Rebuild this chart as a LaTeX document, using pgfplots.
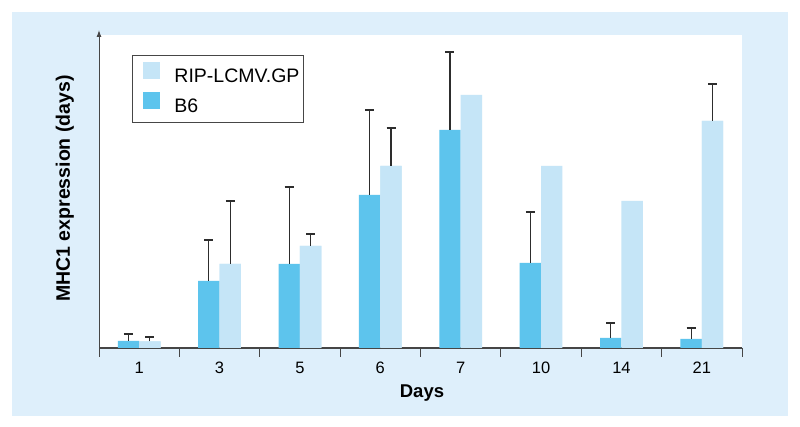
\documentclass[border=0pt]{standalone}
\usepackage{pgfplots}
\pgfplotsset{compat=1.18}
\usepackage{fontspec}
\setmainfont{Liberation Sans}
\usetikzlibrary{arrows.meta}
\definecolor{bsix}{RGB}{93,196,237}
\definecolor{rip}{RGB}{197,229,247}
\definecolor{panel}{RGB}{222,239,251}
\definecolor{axisgray}{RGB}{70,70,70}
\definecolor{errgray}{RGB}{45,45,45}
\begin{document}
\begin{tikzpicture}[x=1pt,y=1pt]
\path (0,0) rectangle (800,427);
\fill[panel] (12,11) rectangle (788,415);
\begin{axis}[
  at={(99pt,79pt)}, anchor=south west,
  scale only axis, width=643pt, height=313pt,
  xmin=0.5, xmax=8.5, ymin=0, ymax=313,
  clip=false,
  axis background/.style={fill=white},
  axis x line*=bottom, axis y line*=left,
  x axis line style={axisgray, line width=1.2pt},
  y axis line style={axisgray, line width=1pt, shorten >=-5pt, -{Latex[length=7pt,width=5pt]}},
  ytick=\empty,
  xtick={1,...,8}, xticklabels={1,3,5,6,7,10,14,21},
  major tick length=0pt,
  major x tick style={draw=none},
  minor xtick={0.5,1.5,...,8.5},
  minor tick length=9pt, tick align=outside,
  minor x tick style={axisgray, line width=1pt},
  /pgf/number format/assume math mode=true,
  xticklabel style={font=\fontsize{16.5}{18}\selectfont, anchor=base, yshift=-25.3pt},
  xlabel={Days},
  xlabel style={font=\bfseries\fontsize{18.5}{20}\selectfont, at={(axis description cs:0.5023,-0.1597)}, anchor=base},
  ylabel={MHC1 expression (days)},
  ylabel style={font=\bfseries\fontsize{19.5}{21}\selectfont, at={(axis description cs:-0.0451,0.5096)}, anchor=base},
  ybar, bar width=21.4pt,
  legend image code/.code={\path (0pt,0pt) -- (0pt,0pt); \fill[#1] (7pt,-1.4pt) rectangle (24pt,15.6pt);},
  reverse legend,
  legend cell align=left,
  legend style={at={(axis description cs:0.0513,0.936)}, anchor=north west,
    draw=axisgray, line width=1pt, fill=white,
    inner xsep=4pt, inner ysep=6pt, column sep=14pt, row sep=5pt,
    font=\fontsize{19.5}{21}\selectfont,
    nodes={inner sep=0pt, text height=15pt, text depth=4pt}},
  error bars/error bar style={draw=errgray, line width=1.2pt},
  error bars/error mark options={rotate=90, draw=errgray, line width=1.2pt, mark size=4.5pt},
]
% B6
\addplot[fill=bsix, draw=none, bar shift=-10.7pt,
  error bars/.cd, y dir=plus, y explicit]
  coordinates {
    (1,7)   +- (0,7)
    (2,67)  +- (0,41)
    (3,84)  +- (0,77)
    (4,153) +- (0,85)
    (5,218) +- (0,78)
    (6,85)  +- (0,51)
    (7,10)  +- (0,15)
    (8,9)   +- (0,11)
  };
\addlegendentry{B6}
% RIP-LCMV.GP
\addplot[fill=rip, draw=none, bar shift=10.7pt]
  coordinates {
    (1,6.5) (2,84) (3,102) (4,182) (5,253) (6,182) (7,147) (8,227)
  };
\addlegendentry{RIP-LCMV.GP}
\addplot[fill=rip, draw=none, bar shift=10.7pt, forget plot,
  error bars/.cd, y dir=plus, y explicit]
  coordinates {
    (1,6.5) +- (0,4.5)
    (2,84)  +- (0,63)
    (3,102) +- (0,12)
    (4,182) +- (0,38)
    (8,227) +- (0,37)
  };
\end{axis}
\end{tikzpicture}
\end{document}
